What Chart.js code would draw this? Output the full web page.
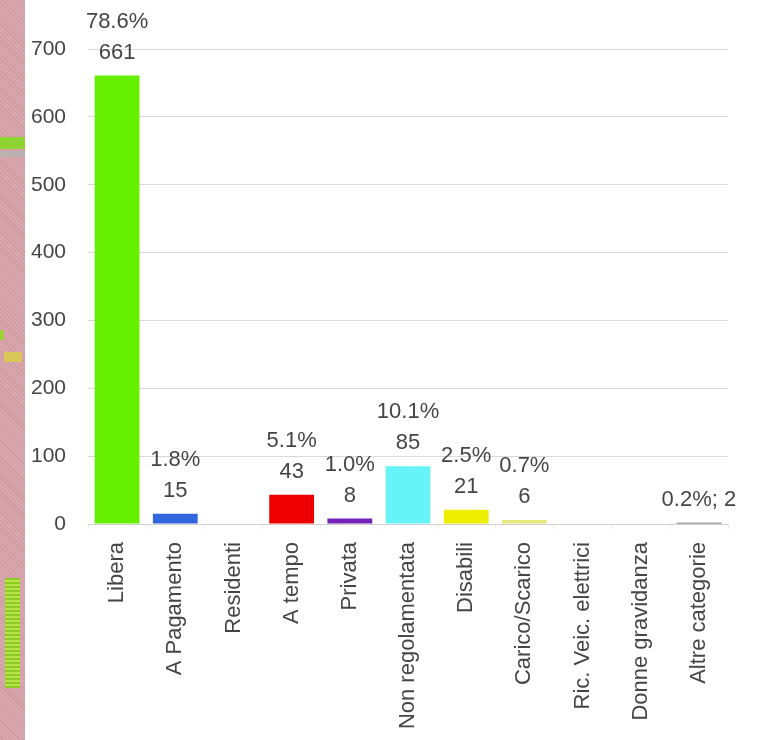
<!DOCTYPE html>
<html>
<head>
<meta charset="utf-8">
<script src="https://cdn.jsdelivr.net/npm/chart.js@4"></script>
<style>
  html, body { margin:0; padding:0; background:#fff; }
  body { width:766px; height:740px; position:relative; overflow:hidden; }
  #strip { position:absolute; left:0; top:0; width:25px; height:740px;
    background: repeating-linear-gradient(45deg, #d9a7ad 0px, #d9a7ad 2px, #cf99a0 2px, #cf99a0 3px); }
  .blk { position:absolute; }
  #wrap { position:absolute; left:25px; top:0; width:741px; height:740px; }
</style>
</head>
<body>
<div id="strip"></div>
<div class="blk" style="left:0;top:137px;width:25px;height:12px;background:#8fd433;"></div>
<div class="blk" style="left:0;top:151px;width:25px;height:6px;background:#b9b0b0;"></div>
<div class="blk" style="left:0;top:330px;width:4px;height:10px;background:#9fce3a;"></div>
<div class="blk" style="left:4px;top:352px;width:18px;height:10px;background:#d8c85a;"></div>
<div class="blk" style="left:5px;top:578px;width:15px;height:110px;background:repeating-linear-gradient(0deg,#8ccc22 0px,#8ccc22 2px,#b7e24a 2px,#b7e24a 4px);"></div>
<div id="wrap"><canvas id="c" width="741" height="740"></canvas></div>
<script>
const categories = ['Libera','A Pagamento','Residenti','A tempo','Privata','Non regolamentata','Disabili','Carico/Scarico','Ric. Veic. elettrici','Donne gravidanza','Altre categorie'];
const counts = [661, 15, 0, 43, 8, 85, 21, 6, 0, 0, 2];
const percents = ['78.6%','1.8%','','5.1%','1.0%','10.1%','2.5%','0.7%','','','0.2%'];
const barColors = ['#66F000','#3366DD','#999999','#EE0000','#7722BB','#66F4F8','#EEEE00','#E8E880','#999999','#999999','#555555'];
const yTicks = [0,100,200,300,400,500,600,700];
const singleLineLabel = [false,false,false,false,false,false,false,false,false,false,true];

const FONT = '"Liberation Sans", Arial, sans-serif';
const TXT = '#454545';

const labelPlugin = {
  id: 'barLabels',
  afterDatasetsDraw(chart) {
    const ctx = chart.ctx;
    const meta = chart.getDatasetMeta(0);
    ctx.save();
    ctx.font = '22px ' + FONT;
    ctx.fillStyle = TXT;
    ctx.textAlign = 'center';
    ctx.textBaseline = 'middle';
    meta.data.forEach((bar, i) => {
      if (!counts[i]) return;
      const x = bar.x, top = bar.y;
      if (singleLineLabel[i]) {
        ctx.fillText(percents[i] + '; ' + counts[i], x, top - 23);
      } else {
        ctx.fillText(String(counts[i]), x, top - 23);
        ctx.fillText(percents[i], x, top - 54);
      }
    });
    ctx.restore();
  }
};

new Chart(document.getElementById('c'), {
  type: 'bar',
  data: {
    labels: categories,
    datasets: [{
      data: counts,
      backgroundColor: barColors,
      borderWidth: 0,
      barPercentage: 0.77,
      categoryPercentage: 1.0
    }]
  },
  options: {
    responsive: false,
    animation: false,
    devicePixelRatio: 1,
    layout: { padding: { top: 49, right: 38, left: 0, bottom: 0 } },
    plugins: { legend: { display: false }, tooltip: { enabled: false } },
    scales: {
      x: {
        grid: { drawOnChartArea: false, drawTicks: true, tickLength: 5, color: '#eeeeee', offset: true },
        border: { display: true, color: '#d0d0d0', width: 1 },
        ticks: { color: TXT, font: { family: FONT, size: 22 }, minRotation: 90, maxRotation: 90, padding: 13, autoSkip: false },
        afterFit(scale) { scale.height = 216; }
      },
      y: {
        min: 0, max: 700,
        afterBuildTicks(scale) { scale.ticks = yTicks.map(v => ({ value: v })); },
        grid: { color: '#d9d9d9', drawTicks: false, lineWidth: 1 },
        border: { display: false },
        ticks: { color: TXT, font: { family: FONT, size: 21 }, padding: 22 },
        afterFit(scale) { scale.width = 63; }
      }
    }
  },
  plugins: [labelPlugin]
});
</script>
</body>
</html>
